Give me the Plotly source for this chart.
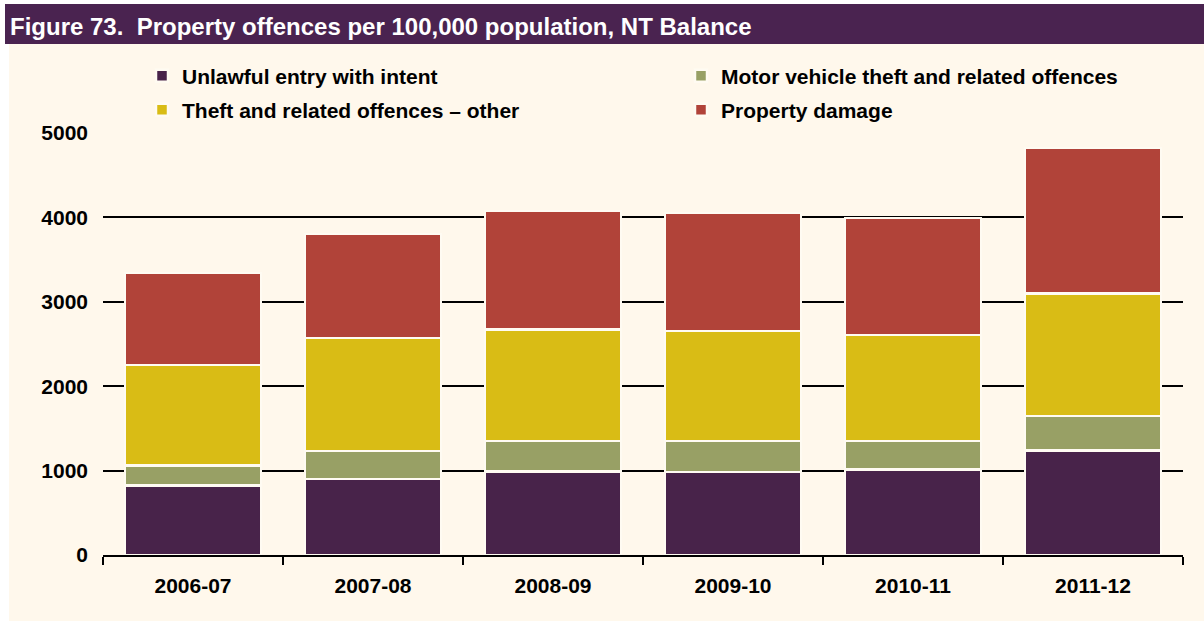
import plotly.graph_objects as go

# Financial years on the category axis
years = ["2006-07", "2007-08", "2008-09", "2009-10", "2010-11", "2011-12"]

# Offences per 100,000 population, by offence type
unlawful_entry = [822, 901, 988, 981, 1016, 1241]
motor_vehicle = [241, 332, 360, 367, 332, 407]
theft_other = [1186, 1336, 1323, 1304, 1257, 1450]
property_damage = [1091, 1233, 1407, 1399, 1387, 1724]

y_ticks = [0, 1000, 2000, 3000, 4000, 5000]

PURPLE = "#48234A"
GREEN = "#98A065"
YELLOW = "#D9BC15"
RED = "#B14339"
CREAM = "#FFF8EC"
BAR_EDGE = "#FFFBF2"

W, H = 1204, 625
L, R, T, B = 103, 21, 133, 70
PW, PH = W - L - R, H - T - B


def px_x(px):
    return (px - L) / PW


def px_y(py):
    return (H - B - py) / PH


# name, values, colour, legend id, legend anchor (left px, centre px)
series = [
    ("Unlawful entry with intent", unlawful_entry, PURPLE, "legend", (142, 76)),
    ("Motor vehicle theft and related offences", motor_vehicle, GREEN, "legend2", (681, 76)),
    ("Theft and related offences \u2013 other", theft_other, YELLOW, "legend3", (142, 110)),
    ("Property damage", property_damage, RED, "legend4", (681, 110)),
]

FONT = "Liberation Sans, Arial, Helvetica, sans-serif"

fig = go.Figure()
legends = {}
for name, vals, color, leg, (lx, ly) in series:
    fig.add_trace(go.Bar(
        x=years, y=vals, name=name, legend=leg,
        marker=dict(color=color, line=dict(color=BAR_EDGE, width=2.5)),
    ))
    legends[leg] = dict(
        x=px_x(lx), y=px_y(ly), xanchor="left", yanchor="middle",
        orientation="h", bgcolor="rgba(0,0,0,0)", borderwidth=0,
        font=dict(family=FONT, size=21, color="black", weight="bold"),
        itemclick=False, itemdoubleclick=False,
    )

fig.update_layout(
    width=W, height=H,
    margin=dict(l=L, r=R, t=T, b=B),
    paper_bgcolor="white",
    plot_bgcolor="rgba(0,0,0,0)",
    barmode="stack",
    bargap=0.245,
    font=dict(family=FONT, color="black"),
    xaxis=dict(
        type="category",
        showline=True, linecolor="black", linewidth=2,
        ticks="outside", tickson="boundaries", ticklen=8, tickwidth=2,
        tickcolor="black", showgrid=False,
        tickfont=dict(family=FONT, size=21, color="black", weight="bold"),
        ticklabelstandoff=11,
    ),
    yaxis=dict(
        range=[0, 5000.5], tickvals=y_ticks, ticktext=[str(v) for v in y_ticks],
        showgrid=True, gridcolor="black", gridwidth=2,
        zeroline=False, showline=False, ticks="",
        tickfont=dict(family=FONT, size=21, color="black", weight="bold"),
        ticklabelstandoff=14,
    ),
    shapes=[
        dict(type="rect", xref="paper", yref="paper", layer="below",
             x0=px_x(9), x1=px_x(W), y0=px_y(621), y1=px_y(44),
             fillcolor=CREAM, line=dict(width=0)),
        dict(type="rect", xref="paper", yref="paper", layer="below",
             x0=px_x(5), x1=px_x(W), y0=px_y(44), y1=px_y(4),
             fillcolor="#4A2350", line=dict(width=0)),
    ],
    annotations=[
        dict(text="Figure 73.  Property offences per 100,000 population, NT Balance",
             xref="paper", yref="paper", x=px_x(8), y=px_y(26),
             xanchor="left", yanchor="middle", showarrow=False,
             font=dict(family=FONT, size=24, color="white", weight="bold")),
    ],
    showlegend=True,
    **legends,
)

fig.write_html("out.html")
